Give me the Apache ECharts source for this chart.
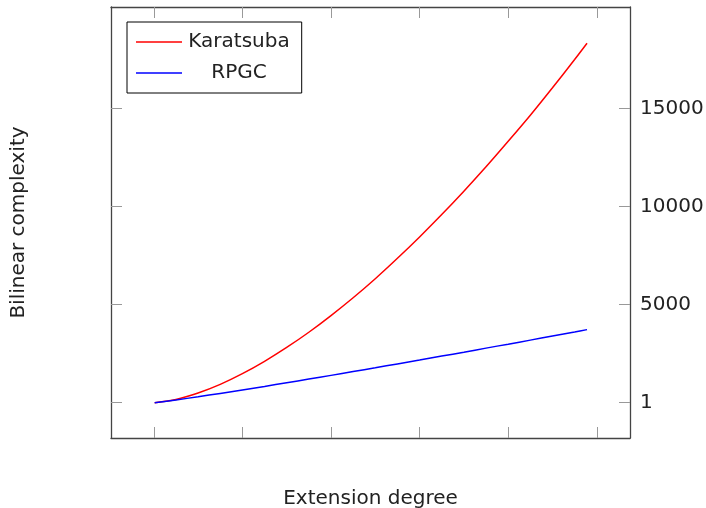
<!DOCTYPE html>
<html>
<head>
<meta charset="utf-8">
<script src="https://cdn.jsdelivr.net/npm/echarts@6/dist/echarts.min.js"></script>
<style>
  html, body { margin: 0; padding: 0; background: #fff; }
  #chart { width: 706px; height: 508px; }
</style>
</head>
<body>
<div id="chart"></div>
<script>
// extension degree (x) and bilinear complexity
const degrees = [1, 25, 50, 75, 100, 125, 150, 175, 200, 225, 250, 275, 300, 325, 350, 375, 400, 425, 450, 475, 489];
const karatsuba = [1, 165, 495, 935, 1480, 2110, 2815, 3590, 4440, 5350, 6320, 7360, 8450, 9590, 10780, 12020, 13320, 14650, 16050, 17490, 18320];
const rpgc = [1, 141, 303, 474, 650, 831, 1016, 1203, 1393, 1586, 1780, 1978, 2175, 2376, 2575, 2782, 2984, 3190, 3396, 3604, 3724];

const xTicks = [0, 100, 200, 300, 400, 500];
const yTicks = [1, 5000, 10000, 15000];

const font = 'DejaVu Sans';
const frame = { show: true, onZero: false, lineStyle: { color: '#444', width: 1.3 } };
const tick = { show: true, inside: true, length: 11, lineStyle: { color: '#999', width: 1 } };

const chart = echarts.init(document.getElementById('chart'), null, { renderer: 'canvas' });

const pairs = ys => degrees.map((d, i) => [d, ys[i]]);

chart.setOption({
    animation: false,
    backgroundColor: '#fff',
    grid: { left: 111, right: 76, top: 7, bottom: 70, outerBoundsMode: 'none', containLabel: false },
    legend: {
        left: 127,
        top: 22,
        orient: 'vertical',
        icon: 'rect',
        itemWidth: 46,
        itemHeight: 1.6,
        itemGap: 11,
        padding: [10, 12, 10, 9],
        borderColor: '#000',
        borderWidth: 1,
        formatter: name => '{c|' + name + '}',
        textStyle: {
            fontFamily: font,
            fontSize: 20,
            color: '#222',
            rich: { c: { width: 104, height: 20, align: 'center', fontFamily: font, fontSize: 20, color: '#222' } }
        },
        data: ['Karatsuba', 'RPGC']
    },
    xAxis: [{
        type: 'value',
        position: 'bottom',
        min: -48.3,
        max: 537.5,
        name: 'Extension degree',
        nameLocation: 'middle',
        nameGap: 51,
        nameTextStyle: { fontFamily: font, fontSize: 20, color: '#222' },
        axisLine: frame,
        axisTick: Object.assign({ customValues: xTicks }, tick),
        axisLabel: { show: false },
        splitLine: { show: false }
    }, {
        type: 'value',
        position: 'top',
        min: -48.3,
        max: 537.5,
        axisLine: frame,
        axisTick: Object.assign({ customValues: xTicks }, tick),
        axisLabel: { show: false },
        splitLine: { show: false }
    }],
    yAxis: [{
        type: 'value',
        position: 'right',
        min: -1799,
        max: 20168,
        axisLine: frame,
        axisTick: Object.assign({ customValues: yTicks }, tick),
        axisLabel: {
            customValues: yTicks,
            formatter: v => String(v),
            margin: 10,
            padding: [5, 0, 0, 0],
            fontFamily: font,
            fontSize: 20,
            color: '#222'
        },
        splitLine: { show: false }
    }, {
        type: 'value',
        position: 'left',
        min: -1799,
        max: 20168,
        name: 'Bilinear complexity',
        nameLocation: 'middle',
        nameGap: 82,
        nameTextStyle: { fontFamily: font, fontSize: 20, color: '#222' },
        axisLine: frame,
        axisTick: Object.assign({ customValues: yTicks }, tick),
        axisLabel: { show: false },
        splitLine: { show: false }
    }],
    series: [{
        name: 'Karatsuba',
        type: 'line',
        xAxisIndex: 0,
        yAxisIndex: 0,
        symbol: 'none',
        smooth: 0.3,
        lineStyle: { color: '#ff0000', width: 1.5 },
        itemStyle: { color: '#ff0000' },
        data: pairs(karatsuba)
    }, {
        name: 'RPGC',
        type: 'line',
        xAxisIndex: 0,
        yAxisIndex: 0,
        symbol: 'none',
        smooth: 0.3,
        lineStyle: { color: '#0000ff', width: 1.5 },
        itemStyle: { color: '#0000ff' },
        data: pairs(rpgc)
    }]
});
</script>
</body>
</html>
